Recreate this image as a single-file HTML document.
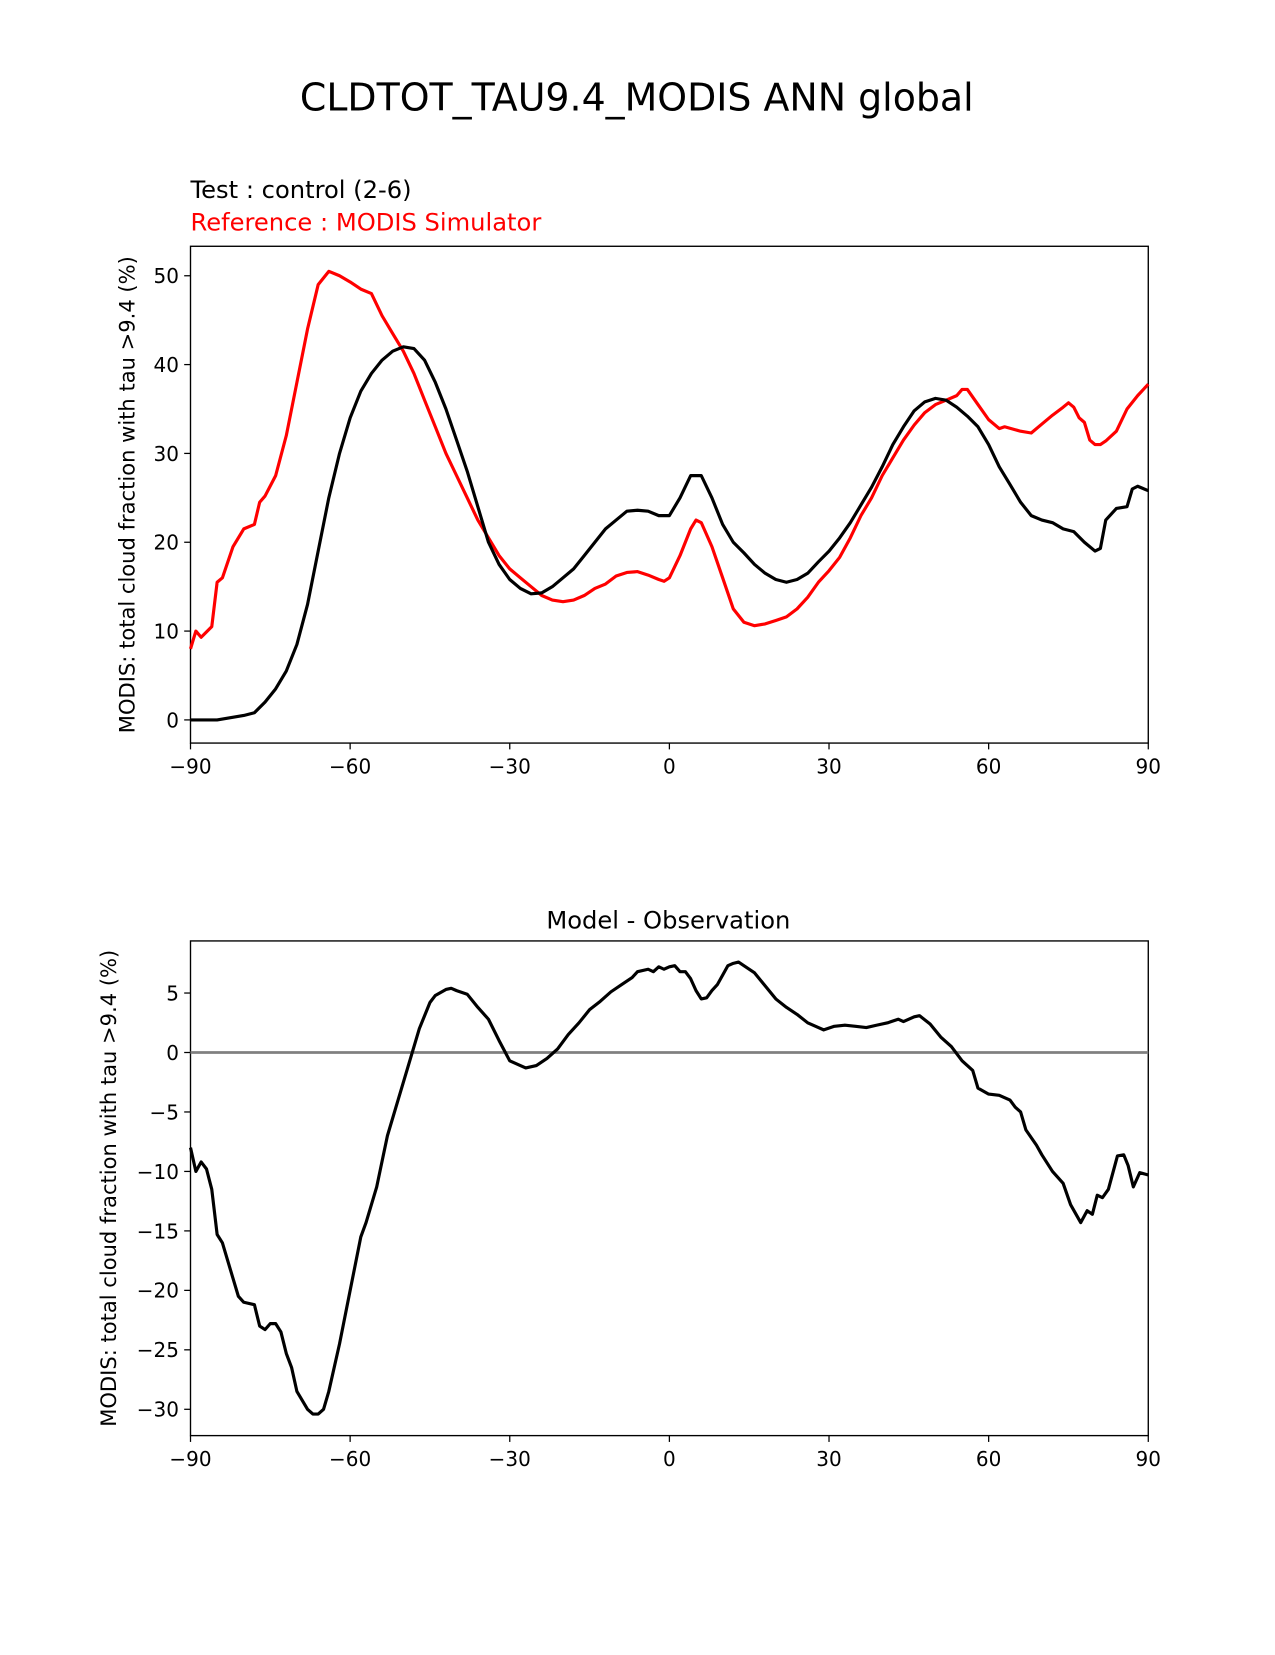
<!DOCTYPE html>
<html><head><meta charset="utf-8"><style>
body{margin:0;background:#fff}
svg text{font-family:"DejaVu Sans","Liberation Sans",sans-serif}
</style></head><body>
<svg id="s" width="1275" height="1650" xmlns="http://www.w3.org/2000/svg">
<g transform="scale(1.0525)">
<text x="605" y="105" font-size="36" text-anchor="middle">CLDTOT_TAU9.4_MODIS ANN global</text>
<text x="181" y="188" font-size="23">Test : control (2-6)</text>
<text x="181" y="219" font-size="23" fill="red">Reference : MODIS Simulator</text>
<text x="635" y="882" font-size="23" text-anchor="middle">Model - Observation</text>
<g id="top"></g>
<g id="bot"></g>
</g>
</svg>
<script>
const testLat=[-90,-85,-80,-78,-76,-74,-72,-70,-68,-66,-64,-62,-60,-58,-56,-54,-52,-50,-48,-46,-44,-42,-40,-38,-36,-34,-32,-30,-28,-26,-24,-22,-20,-18,-16,-14,-12,-10,-8,-6,-4,-2,0,2,4,6,8,10,12,14,16,18,20,22,24,26,28,30,32,34,36,38,40,42,44,46,48,50,52,54,56,58,60,62,64,66,68,70,72,74,76,78,80,81,82,84,86,87,88,90];
const testVal=[0,0,0.5,0.8,2,3.5,5.5,8.5,13,19,25,30,34,37,39,40.5,41.5,42,41.8,40.5,38,35,31.5,28,24,20,17.5,15.8,14.8,14.2,14.3,15,16,17,18.5,20,21.5,22.5,23.5,23.6,23.5,23,23,25,27.5,27.5,25,22,20,18.8,17.5,16.5,15.8,15.5,15.8,16.5,17.8,19,20.5,22.2,24.2,26.2,28.5,31,33,34.8,35.8,36.2,36,35.2,34.2,33,31,28.5,26.5,24.5,23,22.5,22.2,21.5,21.2,20,19,19.3,22.5,23.8,24,26,26.3,25.8];
const refLat=[-90,-89,-88,-86,-85,-84,-82,-80,-78,-77,-76,-74,-72,-70,-68,-66,-64,-62,-60,-58,-56,-54,-52,-50,-48,-46,-44,-42,-40,-38,-36,-34,-32,-30,-28,-26,-24,-22,-20,-18,-16,-14,-12,-10,-8,-6,-4,-2,-1,0,2,4,5,6,8,10,12,14,16,18,20,22,24,26,28,30,32,34,36,38,40,42,44,46,48,50,52,54,55,56,58,60,62,63,66,68,70,72,74,75,76,77,78,79,80,81,82,84,86,88,90];
const refVal=[8,10,9.3,10.5,15.5,16,19.5,21.5,22,24.5,25.2,27.5,32,38,44,49,50.5,50,49.3,48.5,48,45.5,43.5,41.5,39,36,33,30,27.5,25,22.5,20.5,18.5,17,16,15,14,13.5,13.3,13.5,14,14.8,15.3,16.2,16.6,16.7,16.3,15.8,15.6,16,18.5,21.5,22.5,22.2,19.5,16,12.5,11,10.6,10.8,11.2,11.6,12.5,13.8,15.5,16.8,18.3,20.5,23,25,27.5,29.5,31.5,33.2,34.6,35.5,36,36.5,37.2,37.2,35.5,33.8,32.8,33,32.5,32.3,33.3,34.3,35.2,35.7,35.2,34,33.5,31.5,31,31,31.4,32.5,35,36.5,37.8];
const diffLat=[-90,-89,-88,-87,-86,-85,-84,-82,-81,-80,-78,-77,-76,-75,-74,-73,-72,-71,-70,-68,-67,-66,-65,-64,-62,-60,-58,-57,-55,-53,-51,-49,-47,-45,-44,-42,-41,-40,-38,-36,-34,-32,-30,-28,-27,-25,-23,-21,-19,-17,-15,-13,-11,-9,-7,-6,-4,-3,-2,-1,0,1,2,3,4,5,6,7,8,9,10,11,12,13,14,16,18,20,22,24,26,28,29,31,33,35,37,39,41,43,44,46,47,49,51,53,55,57,58,60,62,64,65,66,67,69,70,72,74,75.4,77.3,78.5,79.5,80.4,81.4,82.5,84.2,85.4,86.2,87.2,88.4,90];
const diffVal=[-8,-10,-9.2,-9.8,-11.5,-15.3,-16,-19,-20.5,-21,-21.2,-23,-23.3,-22.8,-22.8,-23.5,-25.3,-26.5,-28.5,-30,-30.4,-30.4,-30,-28.5,-24.5,-20,-15.5,-14.3,-11.3,-7,-4,-1,2,4.2,4.8,5.3,5.4,5.2,4.9,3.8,2.8,1,-0.7,-1.1,-1.3,-1.1,-0.5,0.3,1.5,2.5,3.6,4.3,5.1,5.7,6.3,6.8,7,6.8,7.2,7,7.2,7.3,6.8,6.8,6.2,5.2,4.5,4.6,5.2,5.7,6.5,7.3,7.5,7.6,7.3,6.7,5.6,4.5,3.8,3.2,2.5,2.1,1.9,2.2,2.3,2.2,2.1,2.3,2.5,2.8,2.6,3,3.1,2.4,1.3,0.5,-0.7,-1.5,-3,-3.5,-3.6,-4,-4.6,-5,-6.5,-7.8,-8.6,-10,-11,-12.8,-14.3,-13.3,-13.6,-12,-12.2,-11.5,-8.7,-8.6,-9.5,-11.3,-10.1,-10.3,-12];
const xTicks=[-90,-60,-30,0,30,60,90];
const xTickLabels=["−90","−60","−30","0","30","60","90"];
const topYTicks=[0,10,20,30,40,50];
const botYTicks=[-30,-25,-20,-15,-10,-5,0,5];
const botYTickLabels=["−30","−25","−20","−15","−10","−5","0","5"];
const NS="http://www.w3.org/2000/svg";
function mk(p,t,a){const e=document.createElementNS(NS,t);for(const k in a)e.setAttribute(k,a[k]);p.appendChild(e);return e;}
const xs=v=>181+(v+90)*910/180;
function axes(g,top,bot,ys,yt,ylab,lab){
  mk(g,'rect',{x:181,y:top,width:910,height:bot-top,fill:'none',stroke:'#000','stroke-width':1.3});
  xTicks.forEach((v,i)=>{const x=xs(v);
    const t=mk(g,'line',{x1:x,x2:x,y1:bot,y2:bot+6,stroke:'#000','stroke-width':1.2});
    
    const l=mk(g,'text',{x:x,y:bot+29,'font-size':19,'text-anchor':'middle'});l.textContent=xTickLabels[i];
    });
  yt.forEach((v,i)=>{const y=ys(v);
    const t=mk(g,'line',{x1:175,x2:181,y1:y,y2:y,stroke:'#000','stroke-width':1.2});
    
    const l=mk(g,'text',{x:170,y:y+7,'font-size':19,'text-anchor':'end'});l.textContent=ylab[i];
    });
  const cy=(top+bot)/2;
  const a=mk(g,'text',{x:0,y:0,'font-size':20,'text-anchor':'middle',transform:`translate(${lab},${cy}) rotate(-90)`});
  a.textContent='MODIS: total cloud fraction with tau >9.4 (%)';
  
}
function line(g,lat,val,ys,col,name){
  const d=lat.map((v,i)=>(i?'L':'M')+xs(v).toFixed(1)+','+ys(val[i]).toFixed(1)).join('');
  const p=mk(g,'path',{d:d,fill:'none',stroke:col,'stroke-width':3,'stroke-linejoin':'round'});
  
}
const T=document.getElementById('top'),B=document.getElementById('bot');
const ysT=v=>684-v*8.44, ysB=v=>1000-v*11.3;
axes(T,234,706,ysT,topYTicks,topYTicks.map(String),128);
line(T,refLat,refVal,ysT,'red','reference-line');
line(T,testLat,testVal,ysT,'#000','test-line');
axes(B,894,1364,ysB,botYTicks,botYTickLabels,110);
const z=mk(B,'line',{x1:181,x2:1091,y1:ysB(0),y2:ysB(0),stroke:'#808080','stroke-width':2.5});

line(B,diffLat,diffVal,ysB,'#000','difference-line');
</script>
</body></html>
